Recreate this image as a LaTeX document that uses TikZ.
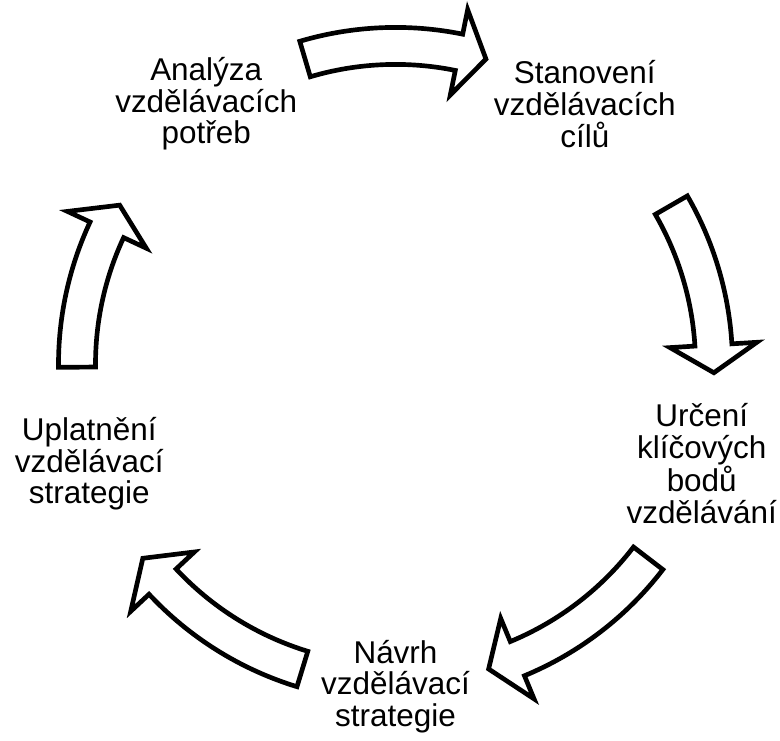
\documentclass[tikz,border=0pt]{standalone}
\usepackage{fontspec}
\setmainfont{Liberation Sans}
\begin{document}
\begin{tikzpicture}[x=0.75pt,y=0.75pt,
  cyclabel/.style={align=center,inner sep=0pt,font=\fontsize{23.6}{23.8}\selectfont},
  cycarrow/.style={draw=black,fill=white,line width=3.5pt,line join=miter}]
\useasboundingbox (-395.5,-375.6) rectangle (384.5,364.4);
% the five steps
\node[cyclabel] (analyza) at (126:322) {Analýza\\vzdělávacích\\potřeb};
\node[cyclabel] (stanoveni) at (54:322) {Stanovení\\vzdělávacích\\cílů};
\node[cyclabel] (urceni) at (-18:322) {Určení\\klíčových\\bodů\\vzdělávání};
\node[cyclabel] (navrh) at (-90:322) {Návrh\\vzdělávací\\strategie};
\node[cyclabel] (uplatneni) at (198:322) {Uplatnění\\vzdělávací\\strategie};
% curved block arrows, clockwise
\draw[cycarrow] (106.5:337) arc[start angle=106.5,end angle=78.5,radius=337] -- (78.5:362) -- (73.5:318.5) -- (78.5:275) -- (78.5:300) arc[start angle=78.5,end angle=106.5,radius=300] -- cycle;
\draw[cycarrow] (30:337) arc[start angle=30,end angle=3.5,radius=337] -- (3.5:362) -- (-1.5:318.5) -- (3.5:275) -- (3.5:300) arc[start angle=3.5,end angle=30,radius=300] -- cycle;
\draw[cycarrow] (-37.5:337) arc[start angle=-37.5,end angle=-67.5,radius=337] -- (-67.5:362) -- (-73:318.5) -- (-67.5:275) -- (-67.5:300) arc[start angle=-67.5,end angle=-37.5,radius=300] -- cycle;
\draw[cycarrow] (-107:337) arc[start angle=-107,end angle=-137,radius=337] -- (-137:362) -- (-142.5:318.5) -- (-137:275) -- (-137:300) arc[start angle=-137,end angle=-107,radius=300] -- cycle;
\draw[cycarrow] (180.5:337) arc[start angle=180.5,end angle=155,radius=337] -- (155:362) -- (150:318.5) -- (155:275) -- (155:300) arc[start angle=155,end angle=180.5,radius=300] -- cycle;
\end{tikzpicture}
\end{document}
